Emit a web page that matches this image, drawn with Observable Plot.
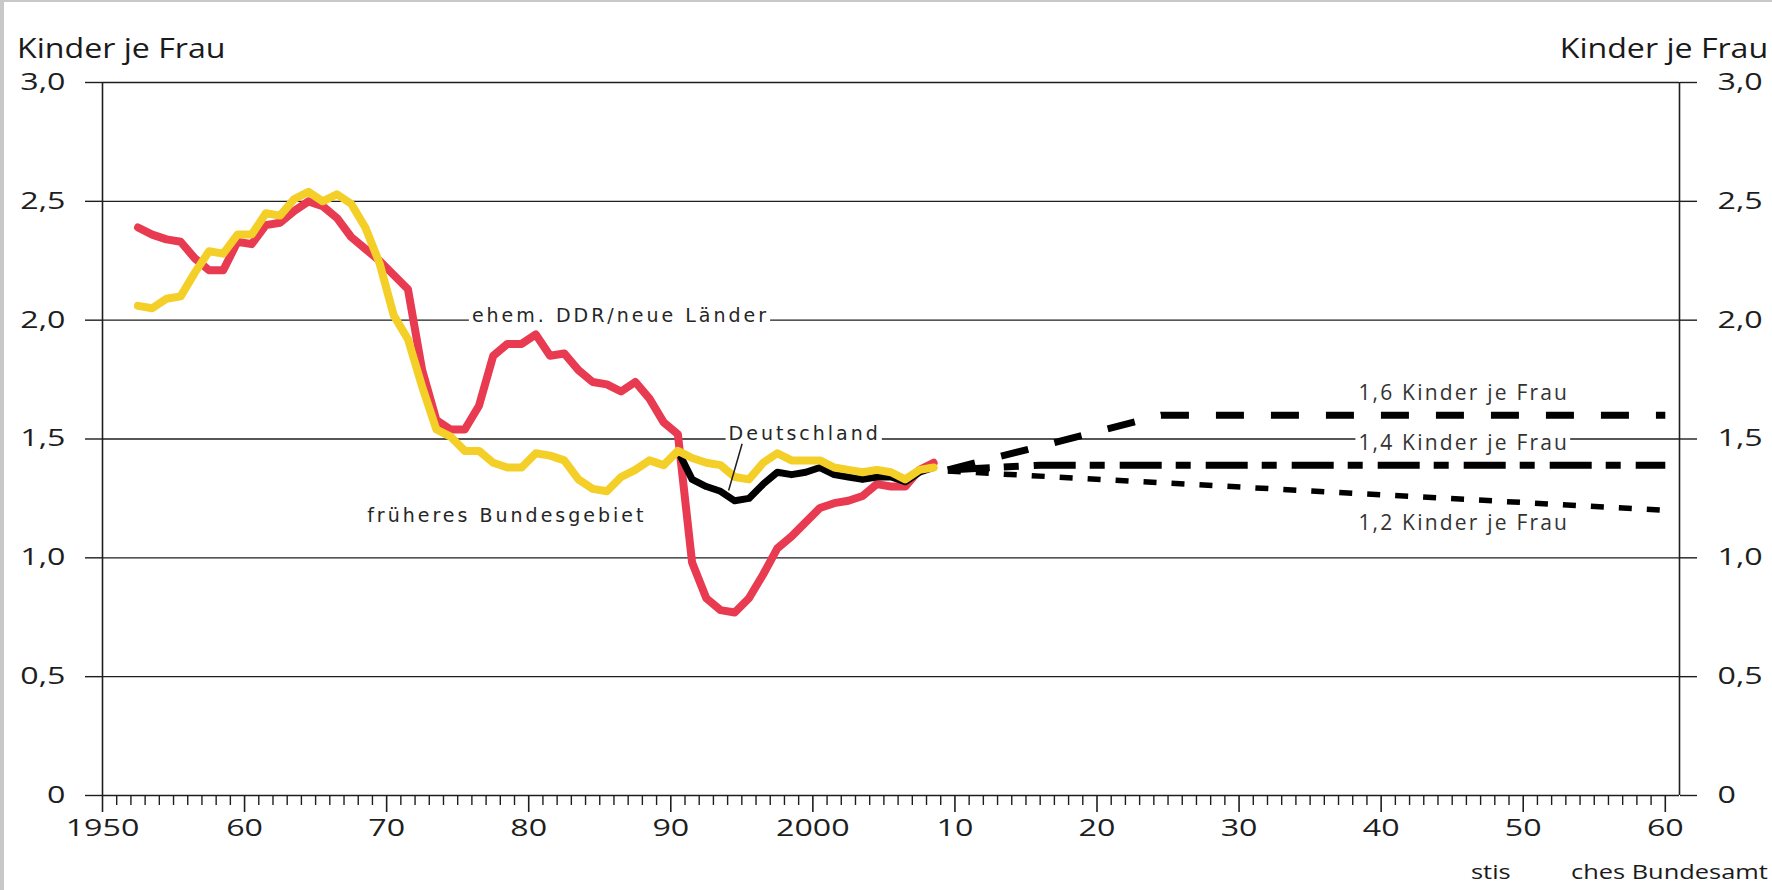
<!DOCTYPE html>
<html><head><meta charset="utf-8">
<script src="https://cdn.jsdelivr.net/npm/d3@7"></script>
<script src="https://cdn.jsdelivr.net/npm/@observablehq/plot@0.6"></script>
<style>
html,body{margin:0;padding:0;background:#fff;}
#page{position:relative;width:1772px;height:890px;overflow:hidden;background:#fff;font-family:"Open Sans",sans-serif;color:#1a1a1a;}
.lab{position:absolute;white-space:nowrap;line-height:1;}
#chart{position:absolute;left:0;top:65px;}
</style></head><body>
<div id="page">
  <div class="lab" style="left:17px;top:34px;font-size:27px;transform:scaleX(1.19);transform-origin:left top;">Kinder je Frau</div>
  <div class="lab" style="right:4px;top:34px;font-size:27px;transform:scaleX(1.19);transform-origin:right top;">Kinder je Frau</div>
  <div id="chart"></div>
  <div class="lab" style="left:1471px;top:862px;font-size:20px;transform:scaleX(1.27);transform-origin:left top;">stis</div>
  <div class="lab" style="left:1571px;top:862px;font-size:20px;transform:scaleX(1.27);transform-origin:left top;">ches Bundesamt</div>
  <div style="position:absolute;left:0;top:0;width:4px;height:890px;background:#c8c8c8"></div>
  <div style="position:absolute;left:0;top:0;width:1772px;height:2px;background:#c8c8c8"></div>
</div>
<script>
// ---- axes ----
const xDomain = [1950, 2061];
const yTicks = [0, 0.5, 1, 1.5, 2, 2.5, 3];
const majorYears = [1950, 1960, 1970, 1980, 1990, 2000, 2010, 2020, 2030, 2040, 2050, 2060];
const majorLabels = ["1950", "60", "70", "80", "90", "2000", "10", "20", "30", "40", "50", "60"];
const minorYears = d3.range(1950, 2061).filter(y => y % 10 !== 0);

// ---- historical series (Kinder je Frau) ----
const yearsDDR = [1952,1953,1954,1955,1956,1957,1958,1959,1960,1961,1962,1963,1964,1965,1966,1967,1968,1969,1970,1971,1972,1973,1974,1975,1976,1977,1978,1979,1980,1981,1982,1983,1984,1985,1986,1987,1988,1989,1990,1991,1992,1993,1994,1995,1996,1997,1998,1999,2000,2001,2002,2003,2004,2005,2006,2007,2008];
const valuesDDR = [2.39,2.36,2.34,2.33,2.26,2.21,2.21,2.33,2.32,2.40,2.41,2.46,2.50,2.48,2.43,2.35,2.30,2.25,2.19,2.13,1.79,1.58,1.54,1.54,1.64,1.85,1.90,1.90,1.94,1.85,1.86,1.79,1.74,1.73,1.70,1.74,1.67,1.57,1.52,0.98,0.83,0.78,0.77,0.83,0.93,1.04,1.09,1.15,1.21,1.23,1.24,1.26,1.31,1.30,1.30,1.37,1.40];

const yearsWest = [1952,1953,1954,1955,1956,1957,1958,1959,1960,1961,1962,1963,1964,1965,1966,1967,1968,1969,1970,1971,1972,1973,1974,1975,1976,1977,1978,1979,1980,1981,1982,1983,1984,1985,1986,1987,1988,1989,1990,1991,1992,1993,1994,1995,1996,1997,1998,1999,2000,2001,2002,2003,2004,2005,2006,2007,2008];
const valuesWest = [2.06,2.05,2.09,2.10,2.20,2.29,2.28,2.36,2.36,2.45,2.44,2.51,2.54,2.50,2.53,2.49,2.39,2.24,2.02,1.92,1.72,1.54,1.51,1.45,1.45,1.40,1.38,1.38,1.44,1.43,1.41,1.33,1.29,1.28,1.34,1.37,1.41,1.39,1.45,1.42,1.40,1.39,1.34,1.33,1.40,1.44,1.41,1.41,1.41,1.38,1.37,1.36,1.37,1.36,1.33,1.37,1.38];

const yearsDE = [1990,1991,1992,1993,1994,1995,1996,1997,1998,1999,2000,2001,2002,2003,2004,2005,2006,2007,2008];
const valuesDE = [1.45,1.33,1.30,1.28,1.24,1.25,1.31,1.36,1.35,1.36,1.38,1.35,1.34,1.33,1.34,1.34,1.32,1.36,1.38];

// ---- projections (x in years) ----
const proj16Years = [2009.5, 2024.5, 2060];
const proj16Values = [1.37, 1.60, 1.60];
const proj14Years = [2009.5, 2016, 2060];
const proj14Values = [1.37, 1.39, 1.39];
const proj12Years = [2009.5, 2060];
const proj12Values = [1.365, 1.20];

// ---- annotations ----
const annoText = ["ehem. DDR/neue Länder", "Deutschland", "früheres Bundesgebiet"];
const annoX = [1976.0, 1994.07, 1968.63];
const annoY = [2.016, 1.52, 1.175];
const annoHalo = [true, true, false];
const projLabelText = ["1,6 Kinder je Frau", "1,4 Kinder je Frau", "1,2 Kinder je Frau"];
const projLabelX = [2038.4, 2038.4, 2038.4];
const projLabelY = [1.691, 1.481, 1.144];
const projLabelHalo = [false, true, false];
const leaderX = [1994.07, 1995.02];
const leaderY = [1.283, 1.48];

const red = "#E83A50", yellow = "#F4CF28", ink = "#1e1e1e";
const tbl = (xs, ys) => xs.map((x, i) => ({x, y: ys[i]}));
const hist = (xs, ys) => xs.map((x, i) => ({x: x + 0.5, y: ys[i]})); // plotted at mid-year
const fmt = d => d === 0 ? "0" : d.toFixed(1).replace(".", ",");
const anno = annoText.map((t, i) => ({t, x: annoX[i], y: annoY[i], halo: annoHalo[i]}));
const plab = projLabelText.map((t, i) => ({t, x: projLabelX[i], y: projLabelY[i], halo: projLabelHalo[i]}));

const chart = Plot.plot({
  width: 1772, height: 780,
  marginLeft: 102, marginRight: 93, marginTop: 17, marginBottom: 50,
  x: {domain: xDomain},
  y: {domain: [0, 3]},
  style: {fontFamily: "'Open Sans', sans-serif", background: "transparent", overflow: "visible", color: ink},
  marks: [
    Plot.ruleY(yTicks, {stroke: ink, strokeWidth: 1.4}),
    Plot.ruleX(xDomain, {stroke: ink, strokeWidth: 1.6}),
    Plot.axisY(yTicks, {anchor: "left", tickSize: 17, tickPadding: 20, tickFormat: fmt, fontSize: 23, strokeWidth: 1.4, label: null, color: ink}),
    Plot.axisY(yTicks, {anchor: "right", tickSize: 17, tickPadding: 21, tickFormat: fmt, fontSize: 23, strokeWidth: 1.4, label: null, color: ink}),
    Plot.axisX(minorYears, {anchor: "bottom", tickSize: 10, tickFormat: () => "", strokeWidth: 1.4, label: null, color: ink}),
    Plot.axisX(majorYears, {anchor: "bottom", tickSize: 17, tickPadding: 7, tickFormat: d => majorLabels[majorYears.indexOf(d)], fontSize: 23, strokeWidth: 1.6, label: null, color: ink}),
    // projections
    Plot.line(tbl(proj12Years, proj12Values), {x: "x", y: "y", stroke: "black", strokeWidth: 5.5, strokeDasharray: "13,15", strokeLinecap: "butt"}),
    Plot.line(tbl(proj14Years, proj14Values), {x: "x", y: "y", stroke: "black", strokeWidth: 7, strokeDasharray: "42,14,15,15", strokeLinecap: "butt"}),
    Plot.line(tbl(proj16Years, proj16Values), {x: "x", y: "y", stroke: "black", strokeWidth: 7, strokeDasharray: "28,27", strokeLinecap: "butt"}),
    // historical lines
    Plot.line(hist(yearsDDR, valuesDDR), {x: "x", y: "y", stroke: red, strokeWidth: 8, strokeLinejoin: "round"}),
    Plot.line(hist(yearsDE, valuesDE), {x: "x", y: "y", stroke: "black", strokeWidth: 7, strokeLinejoin: "round"}),
    Plot.line(hist(yearsWest, valuesWest), {x: "x", y: "y", stroke: yellow, strokeWidth: 8, strokeLinejoin: "round"}),
    // leader line
    Plot.link([0], {x1: () => leaderX[0], y1: () => leaderY[0], x2: () => leaderX[1], y2: () => leaderY[1], stroke: ink, strokeWidth: 1.5}),
    // labels
    Plot.text(anno, {x: "x", y: "y", text: "t", textAnchor: "start", lineAnchor: "middle", fontSize: 19, fontFamily: "DejaVu Sans", fill: "#262626"}),
    Plot.text(plab, {x: "x", y: "y", text: "t", textAnchor: "start", lineAnchor: "middle", fontSize: 21, fill: "#333"})
  ]
});
document.getElementById("chart").appendChild(chart);

// letter-spacing for annotation texts (matched by content)
chart.querySelectorAll("text").forEach(t => {
  const s = t.textContent;
  if (annoText.includes(s)) t.style.letterSpacing = "3px";
  else if (projLabelText.includes(s)) t.style.letterSpacing = "2.2px";
});

// white boxes behind labels that sit on grid lines (measured from the rendered text)
const haloSet = new Set([...anno.filter(d => d.halo).map(d => d.t), ...plab.filter(d => d.halo).map(d => d.t)]);
const svgRect = chart.getBoundingClientRect();
const firstLine = chart.querySelector('g[aria-label="line"]');
chart.querySelectorAll("text").forEach(t => {
  if (!haloSet.has(t.textContent)) return;
  const r = t.getBoundingClientRect();
  const rect = document.createElementNS("http://www.w3.org/2000/svg", "rect");
  rect.setAttribute("x", r.left - svgRect.left - 3);
  rect.setAttribute("y", r.top - svgRect.top);
  rect.setAttribute("width", r.width + 4);
  rect.setAttribute("height", r.height);
  rect.setAttribute("fill", "white");
  chart.insertBefore(rect, firstLine);
});

// horizontally widen tick labels (the reference glyphs are stretched)
function stretch(sel, sx) {
  chart.querySelectorAll(sel).forEach(t => {
    const tr = t.getAttribute("transform");
    if (tr) t.setAttribute("transform", tr + ` scale(${sx},1)`);
    else {
      const x = +t.getAttribute("x") || 0, y = +t.getAttribute("y") || 0;
      t.setAttribute("transform", `translate(${x},${y}) scale(${sx},1) translate(${-x},${-y})`);
    }
  });
}
stretch('g[aria-label$="tick label"] text', 1.4);
</script>
</body></html>
